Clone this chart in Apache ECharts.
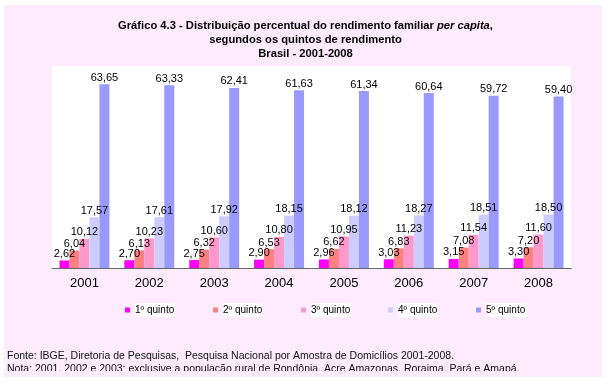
<!DOCTYPE html>
<html>
<head>
<meta charset="utf-8">
<script src="https://cdn.jsdelivr.net/npm/echarts@6/dist/echarts.min.js"></script>
<style>html,body{margin:0;padding:0;background:#fff;}#c{width:611px;height:384px;}</style>
</head>
<body>
<div id="c"></div>
<script>
const categories = ['2001','2002','2003','2004','2005','2006','2007','2008'];
const seriesNames = ['1º quinto','2º quinto','3º quinto','4º quinto','5º quinto'];
const q1 = [2.62, 2.70, 2.75, 2.90, 2.96, 3.03, 3.15, 3.30];
const q2 = [6.04, 6.13, 6.32, 6.53, 6.62, 6.83, 7.08, 7.20];
const q3 = [10.12, 10.23, 10.60, 10.80, 10.95, 11.23, 11.54, 11.60];
const q4 = [17.57, 17.61, 17.92, 18.15, 18.12, 18.27, 18.51, 18.50];
const q5 = [63.65, 63.33, 62.41, 61.63, 61.34, 60.64, 59.72, 59.40];
const seriesValues = [q1, q2, q3, q4, q5];
const colors = ['#FF00FF', '#FF8080', '#FF99CC', '#CCCCFF', '#9999FF'];

const PINK = '#FEEBFD';
const FONT = 'Liberation Sans, Arial, sans-serif';
const NARROW = 'Liberation Sans Narrow, Arial Narrow, Liberation Sans, sans-serif';

const chart = echarts.init(document.getElementById('c'), null, {renderer: 'canvas'});

const legendLefts = [125, 213, 301, 388, 476];
const legends = seriesNames.map((n, i) => ({
  data: [n],
  left: legendLefts[i],
  top: 303,
  padding: 0,
  icon: 'rect',
  itemWidth: 5,
  itemHeight: 5,
  selectedMode: false,
  textStyle: {fontFamily: FONT, fontSize: 10, color: '#000', backgroundColor: '#fff', padding: [1, 1, 1, 0], lineHeight: 12}
}));

chart.setOption({
  animation: false,
  color: colors,
  title: {
    text: '{a|Gráfico 4.3 - Distribuição percentual do rendimento familiar }{b|per capita}{a|,}\n{a|segundos os quintos de rendimento}\n{a|Brasil - 2001-2008}',
    left: 'center',
    top: 14,
    textStyle: {
      rich: {
        a: {fontFamily: NARROW, fontSize: 11.2, fontWeight: 'bold', color: '#000', lineHeight: 14},
        b: {fontFamily: NARROW, fontSize: 11.2, fontWeight: 'bold', fontStyle: 'italic', color: '#000', lineHeight: 14}
      }
    }
  },
  legend: legends,
  grid: {
    left: 52, top: 66, width: 519, height: 202,
    show: true, backgroundColor: '#fff', borderWidth: 0
  },
  xAxis: {
    type: 'category',
    data: categories,
    axisLine: {lineStyle: {color: '#666', width: 1}},
    axisTick: {length: 4, lineStyle: {color: '#666'}},
    axisLabel: {fontFamily: FONT, fontSize: 13, color: '#000', margin: 9}
  },
  yAxis: {
    type: 'value', min: 0, max: 70, show: false,
    splitLine: {show: false}
  },
  graphic: [
    {type: 'rect', z: -10, silent: true, shape: {x: 4, y: 5, width: 598, height: 372}, style: {fill: PINK}},
    {type: 'text', left: 7, top: 351, silent: true, z: 10,
     style: {text: 'Fonte: IBGE, Diretoria de Pesquisas,  Pesquisa Nacional por Amostra de Domicílios 2001-2008.', fontFamily: FONT, fontSize: 10.5, fill: '#111'}},
    {type: 'text', left: 7, top: 364, silent: true, z: 10,
     style: {text: 'Nota: 2001, 2002 e 2003: exclusive a população rural de Rondônia, Acre Amazonas, Roraima, Pará e Amapá.', fontFamily: FONT, fontSize: 10.5, fill: '#111'}},
    {type: 'rect', z: 20, silent: true, shape: {x: 4, y: 371, width: 598, height: 6}, style: {fill: PINK}},
    {type: 'rect', z: 20, silent: true, shape: {x: 0, y: 377, width: 611, height: 7}, style: {fill: '#fff'}}
  ],
  series: seriesNames.map((n, i) => ({
    name: n,
    type: 'bar',
    data: seriesValues[i],
    barGap: '0%',
    barCategoryGap: '23%',
    itemStyle: {color: colors[i]},
    label: {
      show: true,
      position: 'top',
      distance: 1,
      fontFamily: FONT,
      fontSize: 11,
      color: '#000',
      formatter: p => p.value.toFixed(2).replace('.', ',')
    }
  }))
});
</script>
</body>
</html>
